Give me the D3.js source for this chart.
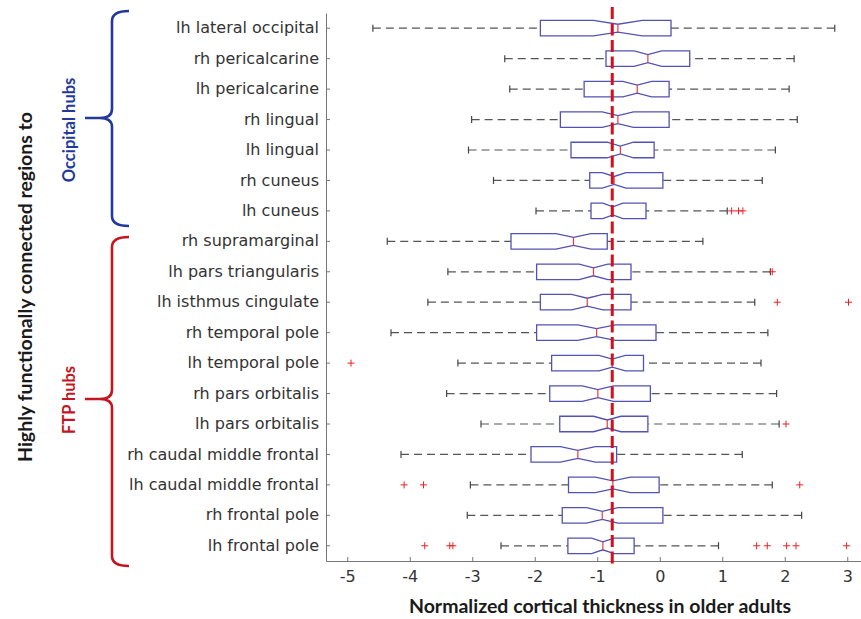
<!DOCTYPE html>
<html>
<head>
<meta charset="utf-8">
<script src="https://cdn.jsdelivr.net/npm/d3@7"></script>
<style>
  html, body { margin: 0; padding: 0; background: #fff; }
  svg { display: block; }
</style>
</head>
<body>
<svg id="chart" width="861" height="619"></svg>
<script>
// ---------- DATA ----------
const categories = [
  "lh lateral occipital", "rh pericalcarine", "lh pericalcarine", "rh lingual",
  "lh lingual", "rh cuneus", "lh cuneus", "rh supramarginal",
  "lh pars triangularis", "lh isthmus cingulate", "rh temporal pole", "lh temporal pole",
  "rh pars orbitalis", "lh pars orbitalis", "rh caudal middle frontal", "lh caudal middle frontal",
  "rh frontal pole", "lh frontal pole"
];
const whiskerLow  = [-4.59, -2.48, -2.40, -3.01, -3.06, -2.66, -1.98, -4.36, -3.39, -3.71, -4.30, -3.23, -3.41, -2.86, -4.14, -3.03, -3.08, -2.54];
const q1          = [-1.91, -0.86, -1.21, -1.59, -1.42, -1.12, -1.10, -2.38, -1.97, -1.91, -1.97, -1.73, -1.76, -1.60, -2.06, -1.46, -1.56, -1.47];
const medians     = [-0.67, -0.19, -0.36, -0.67, -0.63, -0.73, -0.75, -1.38, -1.06, -1.16, -1.01, -0.76, -0.99, -0.84, -1.31, -0.75, -0.92, -0.91];
const q3          = [ 0.18,  0.48,  0.15,  0.15, -0.09,  0.05, -0.22, -0.84, -0.46, -0.46, -0.06, -0.26, -0.15, -0.19, -0.69, -0.01,  0.05, -0.41];
const whiskerHigh = [ 2.80,  2.15,  2.07,  2.20,  1.85,  1.64,  1.08,  0.69,  1.77,  1.52,  1.73,  1.62,  1.87,  1.91,  1.32,  1.80,  2.27,  0.94];
const notchHalf   = [ 0.39,  0.22,  0.23,  0.25,  0.21,  0.19,  0.16,  0.28,  0.23,  0.25,  0.30,  0.21,  0.25,  0.22,  0.28,  0.28,  0.25,  0.18];
const outliers = [
  [], [], [], [], [], [],
  [1.15, 1.26, 1.33],
  [],
  [1.80],
  [1.88, 3.02],
  [],
  [-4.94],
  [],
  [2.02],
  [],
  [-4.09, -3.78, 2.24],
  [],
  [-3.76, -3.36, -3.31, 1.55, 1.72, 2.03, 2.18, 2.99]
];
const referenceValue = -0.76;
const xTicks = [-5, -4, -3, -2, -1, 0, 1, 2, 3];
const groupLabels = ["Occipital hubs", "FTP hubs"];
const groupFirst = [0, 7];
const groupLast = [6, 17];
const xTitle = "Normalized cortical thickness in older adults";
const yTitle = "Highly functionally connected regions to";

// ---------- LAYOUT ----------
const svg = d3.select("#chart");
const plotLeft = 326, plotRight = 861, plotTop = 13, plotBottom = 561;

const x = d3.scaleLinear().domain([-5.34, 3.22]).range([plotLeft, plotRight]);
const y = d3.scaleBand().domain(categories).range([plotTop, plotBottom]);
const yc = c => y(c) + y.bandwidth() / 2;

const boxH = 7.75, notchH = 4, capH = 3.5;
const blue = "#5252b4", medRed = "#f03a3a";

// Axes
const xAxis = svg.append("g")
  .attr("transform", `translate(0,${plotBottom})`)
  .call(d3.axisBottom(x).tickValues(xTicks).tickFormat(d => String(d))
        .tickSizeInner(-4).tickSizeOuter(0).tickPadding(10));
xAxis.select(".domain").attr("stroke", "#777");
xAxis.selectAll(".tick line").attr("stroke", "#777");
xAxis.selectAll(".tick text").attr("font-family", "DejaVu Sans").attr("font-size", 16).attr("fill", "#333");

const yAxis = svg.append("g")
  .attr("transform", `translate(${plotLeft},0)`)
  .call(d3.axisLeft(y).tickSizeInner(-4).tickSizeOuter(0).tickPadding(7));
yAxis.select(".domain").attr("stroke", "#777");
yAxis.selectAll(".tick line").attr("stroke", "#777");
yAxis.selectAll(".tick text").attr("font-family", "DejaVu Sans").attr("font-size", 16).attr("fill", "#333");

const rows = categories.map((c, i) => ({
  c, wl: whiskerLow[i], q1: q1[i], med: medians[i], q3: q3[i], wh: whiskerHigh[i],
  nh: notchHalf[i], out: outliers[i]
}));

const g = svg.append("g");
rows.forEach(r => {
  const cy = yc(r.c);
  g.append("line").attr("x1", x(r.wl)).attr("x2", x(r.q1)).attr("y1", cy).attr("y2", cy)
    .attr("stroke", "#555").attr("stroke-width", 1.2).attr("stroke-dasharray", "8,5");
  g.append("line").attr("x1", x(r.wh)).attr("x2", x(r.q3)).attr("y1", cy).attr("y2", cy)
    .attr("stroke", "#555").attr("stroke-width", 1.2).attr("stroke-dasharray", "8,5");
  [r.wl, r.wh].forEach(v => {
    g.append("line").attr("x1", x(v)).attr("x2", x(v)).attr("y1", cy - capH).attr("y2", cy + capH)
      .attr("stroke", "#444").attr("stroke-width", 1.2);
  });
  const nlo = r.med - r.nh, nhi = r.med + r.nh;
  const pts = [
    [x(r.q1), cy - boxH], [x(nlo), cy - boxH], [x(r.med), cy - notchH], [x(nhi), cy - boxH],
    [x(r.q3), cy - boxH], [x(r.q3), cy + boxH], [x(nhi), cy + boxH], [x(r.med), cy + notchH],
    [x(nlo), cy + boxH], [x(r.q1), cy + boxH]
  ];
  g.append("path").attr("d", "M" + pts.map(p => p.join(",")).join("L") + "Z")
    .attr("fill", "none").attr("stroke", blue).attr("stroke-width", 1.3);
  g.append("line").attr("x1", x(r.med)).attr("x2", x(r.med)).attr("y1", cy - notchH).attr("y2", cy + notchH)
    .attr("stroke", medRed).attr("stroke-width", 1.2);
  r.out.forEach(v => {
    const ox = x(v);
    g.append("path").attr("d", `M${ox - 3.5},${cy}H${ox + 3.5}M${ox},${cy - 3.5}V${cy + 3.5}`)
      .attr("stroke", "#f02020").attr("stroke-width", 1);
  });
});

// Reference dashed line
svg.append("line")
  .attr("x1", x(referenceValue)).attr("x2", x(referenceValue))
  .attr("y1", 7).attr("y2", 568)
  .attr("stroke", "#d0121f").attr("stroke-width", 3).attr("stroke-dasharray", "12,4.5");

// Axis titles
svg.append("text").attr("x", 600).attr("y", 613).attr("text-anchor", "middle")
  .attr("font-family", "Lato").attr("font-weight", "bold").attr("font-size", 19.5).attr("fill", "#1a1a1a")
  .text(xTitle);
svg.append("text").attr("transform", "translate(32,287) rotate(-90)").attr("text-anchor", "middle")
  .attr("font-family", "Lato").attr("font-weight", "bold").attr("font-size", 19.5).attr("fill", "#1a1a1a")
  .text(yTitle);

// Group braces
const braceStyle = [
  { color: "#23399a", top: 11, bot: 226, mid: 118, textY: 130 },
  { color: "#c3161f", top: 237, bot: 566, mid: 399, textY: 400 }
];
const braceX = 112, armX = 129, tipX = 85;
groupLabels.forEach((label, i) => {
  const s = braceStyle[i];
  const d = `M${armX},${s.top} Q${braceX},${s.top} ${braceX},${s.top + 10} L${braceX},${s.mid - 9} Q${braceX},${s.mid} ${braceX - 12},${s.mid} L${tipX},${s.mid}` +
            `M${braceX - 12},${s.mid} Q${braceX},${s.mid} ${braceX},${s.mid + 9} L${braceX},${s.bot - 10} Q${braceX},${s.bot} ${armX},${s.bot}`;
  svg.append("path").attr("d", d).attr("fill", "none").attr("stroke", s.color).attr("stroke-width", 2.6);
  svg.append("text").attr("transform", `translate(75,${s.textY}) rotate(-90)`).attr("text-anchor", "middle")
    .attr("font-family", "Lato").attr("font-weight", "bold").attr("font-size", 16.5).attr("fill", s.color)
    .text(label);
});
</script>
</body>
</html>
